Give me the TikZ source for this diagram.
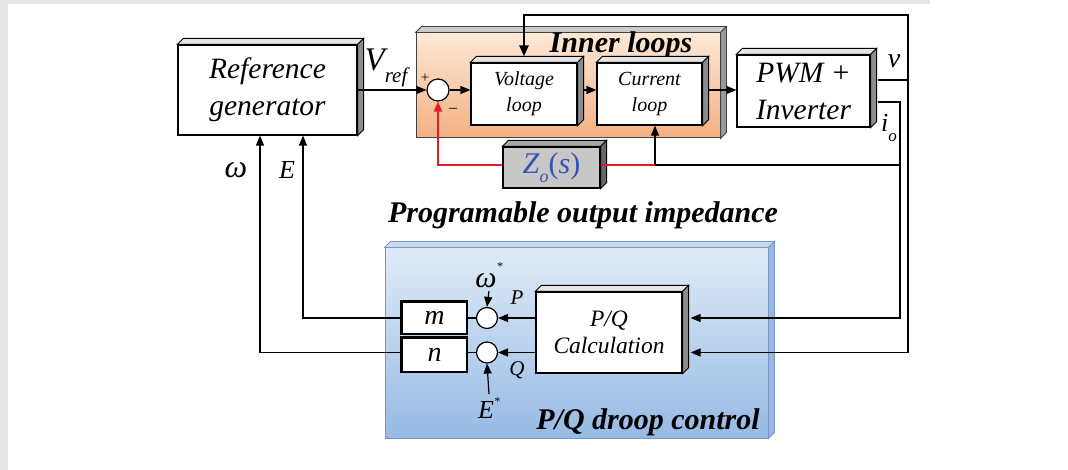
\documentclass[tikz,border=0pt]{standalone}
\usepackage{fontspec}
\setmainfont{Liberation Serif}
\usepackage{xcolor}
\usetikzlibrary{arrows.meta,positioning,calc}

\definecolor{innertop}{RGB}{252,232,214}
\definecolor{innerbot}{RGB}{244,176,130}
\definecolor{drooptop}{RGB}{224,235,247}
\definecolor{droopbot}{RGB}{150,186,228}
\definecolor{droopline}{RGB}{112,152,204}
\definecolor{fbred}{RGB}{226,30,36}
\definecolor{zblue}{RGB}{52,84,180}
\definecolor{bggray}{RGB}{229,230,232}

% 3D edge: top face and side face of a block
\newcommand{\boxedge}[4]{%
  \filldraw[draw=#4, line width=0.8pt, fill=#2] (#1.north west) -- ++(6,-6) -- ($(#1.north east)+(6,-6)$) -- (#1.north east) -- cycle;
  \filldraw[draw=#4, line width=0.8pt, fill=#3] (#1.north east) -- ++(6,-6) -- ($(#1.south east)+(6,-6)$) -- (#1.south east) -- cycle;
}

\begin{document}
\begin{tikzpicture}[x=1pt, y=-1pt,
  blk/.style={draw, line width=1.2pt, fill=white, inner sep=0pt, align=center},
  bigtxt/.style={font=\fontsize{29.5}{37}\selectfont\itshape},
  smalltxt/.style={font=\fontsize{20}{26}\selectfont\itshape},
  midtxt/.style={font=\fontsize{23.5}{27}\selectfont\itshape},
  lbl/.style={font=\fontsize{26}{26}\selectfont\itshape},
  title/.style={font=\fontsize{30}{30}\selectfont\bfseries\itshape},
  sum/.style={draw, circle, line width=1.2pt, fill=white, minimum size=22pt, inner sep=0pt},
  wire/.style={line width=1.2pt},
  ptr/.style={wire, -{Triangle[length=10pt,width=8pt]}},
  fb/.style={line width=2pt, fbred}
]
\useasboundingbox (0,0) rectangle (1068,470);
\fill[bggray] (0,0) rectangle (8,470);
\fill[bggray] (8,0) rectangle (930,4);

% panels
\node[draw=black!75, line width=1pt, top color=innertop, bottom color=innerbot,
  minimum width=304, minimum height=105] (inner) at (568,85.5) {};
\boxedge{inner}{black!20}{black!40}{black!75}
\node[title] (innertitle) at (621,45) {Inner loops};

\node[draw=droopline, line width=1pt, top color=drooptop, bottom color=droopbot,
  minimum width=383, minimum height=190] (droop) at (576.5,343) {};
\boxedge{droop}{drooptop!80!droopline}{droopline!70}{droopline}
\node[title] (drooptitle) at (648,422) {P/Q droop control};

% blocks
\node[blk, bigtxt, minimum width=179, minimum height=90] (refgen) at (267.5,90) {Reference\\generator};
\boxedge{refgen}{black!10}{black!45}{black}
\node[blk, smalltxt, minimum width=106, minimum height=62] (vloop) at (524,94) {Voltage\\loop};
\boxedge{vloop}{black!10}{black!45}{black}
\node[blk, smalltxt, minimum width=105, minimum height=62] (cloop) at (649.5,94) {Current\\loop};
\boxedge{cloop}{black!10}{black!45}{black}
\node[blk, bigtxt, minimum width=133, minimum height=72] (pwm) at (803.5,91) {PWM +\\Inverter};
\boxedge{pwm}{black!10}{black!45}{black}
\node[blk, fill=black!22, minimum width=97, minimum height=41, text=zblue,
  font=\fontsize{30}{30}\selectfont] (zo) at (551.5,167.5)
  {\textit{Z}\raisebox{-0.3em}{\fontsize{18}{18}\selectfont\textit{o}}(\textit{s})};
\boxedge{zo}{black!35}{black!60}{black}
\node[blk, midtxt, minimum width=146, minimum height=81] (pqcalc) at (609,332.5) {P/Q\\Calculation};
\boxedge{pqcalc}{black!10}{black!45}{black}
\node[blk, lbl, font=\fontsize{28}{28}\selectfont\itshape, minimum width=65, minimum height=32] (mgain) at (434.5,318) {m};
\draw[line width=3pt] (mgain.south west) -- (mgain.north west) -- (mgain.north east);
\node[blk, lbl, font=\fontsize{28}{28}\selectfont\itshape, minimum width=65, minimum height=34] (ngain) at (434.5,355) {n};
\draw[line width=3pt] (ngain.south west) -- (ngain.north west) -- (ngain.north east);

% summing junctions
\node[sum] (sumv) at (438,90) {};
\node[sum, minimum size=21pt] (sump) at (487,318) {};
\node[sum, minimum size=21pt] (sumq) at (487,352.5) {};

% labels
\node[font=\fontsize{33}{33}\selectfont\itshape] (vref) at (386,68) {V\raisebox{-0.35em}{\fontsize{21}{21}\selectfont ref}};
\node[font=\fontsize{15}{15}\selectfont] (plus) at (425,78) {+};
\node[font=\fontsize{16}{16}\selectfont] (minus) at (453,110) {--};
\node[lbl, font=\fontsize{28}{28}\selectfont\itshape] (vlbl) at (894,61) {v};
\node[lbl] (iolbl) at (889,128) {i\raisebox{-0.35em}{\fontsize{17}{17}\selectfont o}};
\node[font=\fontsize{32}{32}\selectfont\itshape] (wlbl) at (236,170) {ω};
\node[lbl] (elbl) at (287,170) {E};
\node[font=\fontsize{30}{30}\selectfont\itshape] (wstar) at (489,275) {ω\raisebox{0.55em}{\fontsize{12}{12}\selectfont *}};
\node[lbl] (estar) at (489,408) {E\raisebox{0.5em}{\fontsize{12}{12}\selectfont *}};
\node[font=\fontsize{21}{21}\selectfont\itshape] (plbl) at (517,298) {P};
\node[font=\fontsize{21}{21}\selectfont\itshape] (qlbl) at (517,370) {Q};
\node[title] (zotitle) at (583,215) {Programable output impedance};

% corners of the feedback paths
\coordinate (vtop) at (908,15);
\coordinate (vout) at (908,80);
\coordinate (iojoint) at (900,165);
\coordinate (fbjoint) at (655,165);

% forward path
\draw[ptr] (refgen.east |- sumv) -- (sumv.west);
\draw[ptr] (sumv.east) -- (sumv.east -| vloop.west);
\draw[ptr] ($(vloop.east |- sumv)+(6,0)$) -- (sumv -| cloop.west);
\draw[ptr] ($(cloop.east |- sumv)+(6,0)$) -- (sumv -| pwm.west);

% voltage feedback
\draw[line width=2.4pt, -{Triangle[length=11pt,width=9pt]}] ($(pwm.east)+(7,-11)$) -| (vtop) -| ($(vloop.north)+(0,-6)$);
\draw[ptr] (vout) |- ($(pqcalc.east)+(8,20)$);

% current feedback
\draw[ptr] ($(pwm.east)+(7,11)$) -| (iojoint) |- ($(pqcalc.east)+(8,-14.5)$);
\draw[ptr] (iojoint) -- (fbjoint) -- (fbjoint |- cloop.south);
\draw[fb] (fbjoint) -- (fbjoint -| zo.east);
\draw[fb, -{Triangle[length=10pt,width=8pt]}] (fbjoint -| zo.west) -| (sumv.south);

% droop control
\draw[ptr] ($(pqcalc.west)+(0,-14.5)$) -- (sump.east);
\draw[ptr] ($(pqcalc.west)+(0,20)$) -- (sumq.east);
\draw[ptr] (wstar.south) -- (sump.north);
\draw[ptr] (estar.north) -- (sumq.south);
\draw[wire] (sump.west) -- (mgain.east);
\draw[wire] (sumq.west) -- (sumq -| ngain.east);
\draw[ptr] (mgain.west) -| ($(refgen.south)+(35.5,0)$);
\draw[ptr] (sumq -| ngain.west) -| ($(refgen.south)+(-7.5,0)$);
\end{tikzpicture}
\end{document}
